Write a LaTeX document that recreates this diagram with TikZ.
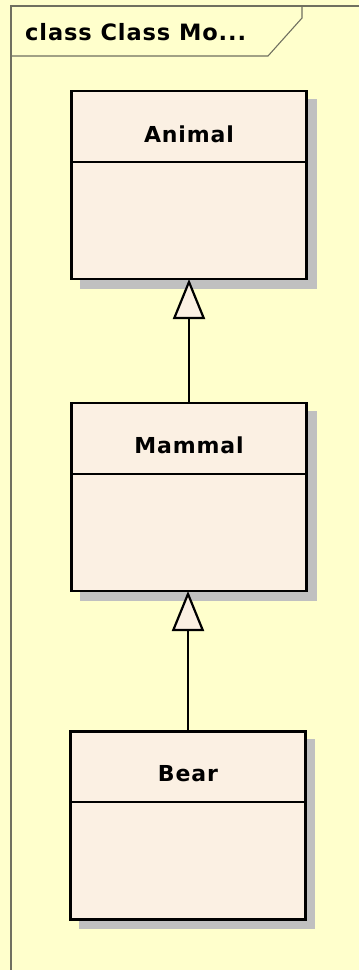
\documentclass[tikz,border=0pt]{standalone}
\usepackage{fontspec}
\setmainfont{DejaVu Sans}
\newfontfamily\spacedbold[LetterSpace=4]{DejaVu Sans Bold}
\usetikzlibrary{arrows.meta}
\definecolor{bgyellow}{HTML}{FFFFCC}
\definecolor{boxfill}{HTML}{FBF0E3}
\definecolor{shadowgray}{HTML}{C0C0C0}
\definecolor{framegray}{HTML}{707060}
\tikzset{
  classbox/.style={draw=black, line width=2.8pt, fill=boxfill, rectangle,
    minimum width=235pt, minimum height=188pt, inner sep=0pt, outer sep=0pt},
  classshadow/.style={fill=shadowgray, draw=none},
  classname/.style={font=\fontsize{22}{24}\spacedbold, anchor=base, inner sep=0pt},
  divider/.style={draw=black, line width=2.2pt},
  generalization/.style={draw=black, line width=2.2pt,
    -{Triangle[open, length=40pt, width=32pt, fill=boxfill]}},
  frameline/.style={draw=framegray, line width=1.1pt},
  frametitle/.style={font=\fontsize{22.5}{26}\spacedbold, anchor=base west, inner sep=0pt}
}
\begin{document}
\begin{tikzpicture}[x=1pt, y=-1pt]
  \fill[bgyellow] (0,0) rectangle (359,970);
  \useasboundingbox (0,0) rectangle (359,970);
  % frame
  \draw[frameline] (11,970) -- (11,6) -- (359,6);
  \draw[frameline] (11,56) -- (268,56) -- (302,18) -- (302,6);
  \node[frametitle] (title) at (25,40) {class Class Mo...};
  % shadows
  \fill[classshadow] (80,99) rectangle (317,289);
  \fill[classshadow] (80,411) rectangle (317,601);
  \fill[classshadow] (79,739) rectangle (315,929);
  % classes
  \node[classbox] (animal) at (189,185) {};
  \node[classbox] (mammal) at (189,497) {};
  \node[classbox] (bear) at (188,825.5) {};
  \draw[divider] (animal.west |- 0,162) -- (animal.east |- 0,162);
  \draw[divider] (mammal.west |- 0,474) -- (mammal.east |- 0,474);
  \draw[divider] (bear.west |- 0,802) -- (bear.east |- 0,802);
  \node[classname] (animalname) at ([yshift=-51pt]animal.north) {Animal};
  \node[classname] (mammalname) at ([yshift=-50pt]mammal.north) {Mammal};
  \node[classname] (bearname) at ([yshift=-50pt]bear.north) {Bear};
  % generalizations
  \draw[generalization] (mammal.north) -- (animal.south);
  \draw[generalization] (bear.north) -- (bear.north |- mammal.south);
\end{tikzpicture}
\end{document}
